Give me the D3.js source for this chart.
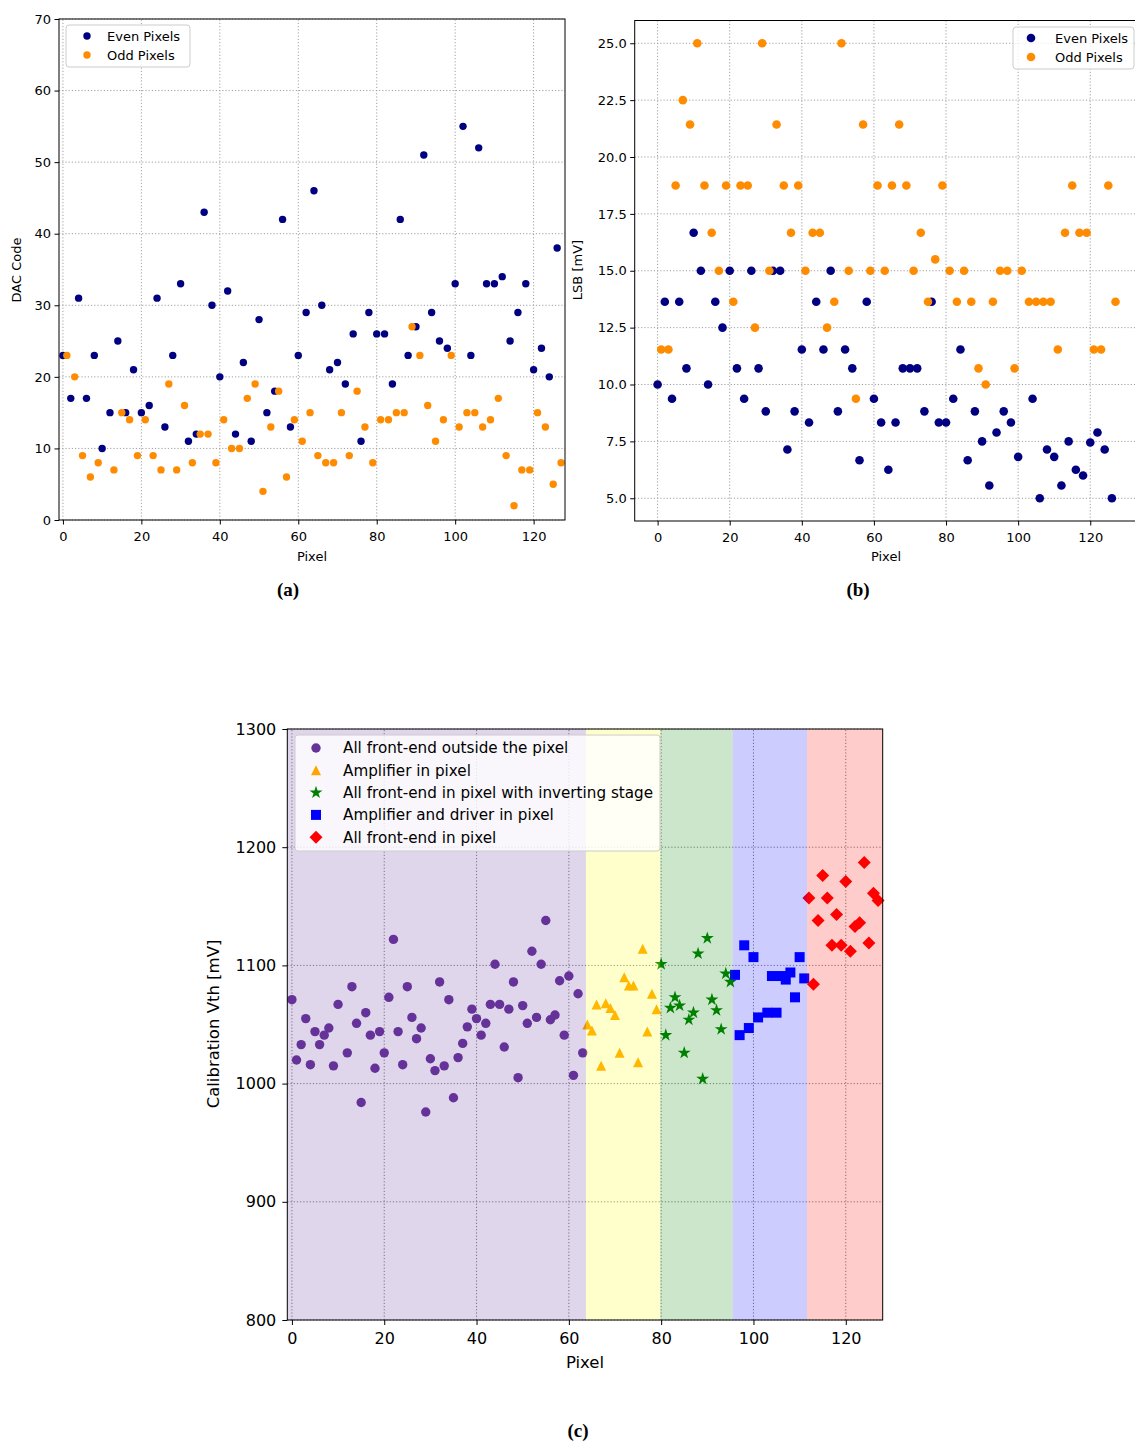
<!DOCTYPE html>
<html>
<head>
<meta charset="utf-8">
<script src="https://cdn.jsdelivr.net/npm/d3@7"></script>
<style>
  body { margin: 0; background: #fff; }
  svg { display: block; }
  text { font-family: "DejaVu Sans", sans-serif; }
</style>
</head>
<body>
<svg id="fig" width="1135" height="1443"></svg>
<script>
// ---- data: panel (a) DAC code, even pixels 0,2,..126 and odd pixels 1,3,..127
const dacEven = [23,17,31,17,23,10,15,25,15,21,15,16,31,13,23,33,11,12,43,30,20,32,12,22,11,28,15,18,42,13,23,29,
                 46,30,21,22,19,26,11,29,26,26,19,42,23,27,51,29,25,24,33,55,23,52,33,33,34,25,29,33,21,24,20,38];
const dacOdd  = [23,20,9,6,8,null,7,15,14,9,14,9,7,19,7,16,8,12,12,8,14,10,10,17,19,4,13,18,6,14,11,15,
                 9,8,8,15,9,18,13,8,14,14,15,15,27,23,16,11,14,23,13,15,15,13,14,17,9,2,7,7,15,13,5,8];

// ---- data: panel (b) LSB [mV]
const lsbEven = [10,13.64,9.375,13.64,10.71,16.67,15,10,13.64,12.5,15,10.71,9.375,15,10.71,8.82,15,15,7.14,8.82,
                 11.54,8.33,13.64,11.54,15,8.82,11.54,10.71,6.67,13.64,9.375,8.33,6.25,8.33,10.71,10.71,10.71,8.82,
                 13.64,8.33,8.33,9.375,11.54,6.67,8.82,7.5,5.56,7.89,8.82,8.33,6.82,null,9.375,5.0,7.14,6.82,5.56,
                 7.5,6.25,6.0,7.45,7.89,7.14,5.0];
const lsbOdd  = [11.54,11.54,18.75,22.5,21.43,25,18.75,16.67,15,18.75,13.64,18.75,18.75,12.5,25,15,21.43,18.75,
                 16.67,18.75,15,16.67,16.67,12.5,13.64,25,15,9.375,21.43,15,18.75,15,18.75,21.43,18.75,15,16.67,
                 13.64,15.5,18.75,15,13.64,15,13.64,10.71,10,13.64,15,15,10.71,15,13.64,13.64,13.64,13.64,11.54,
                 16.67,18.75,16.67,16.67,11.54,11.54,18.75,13.64];

// ---- data: panel (c) calibration Vth [mV], five front-end variants
const groupNames = ["All front-end outside the pixel", "Amplifier in pixel",
                    "All front-end in pixel with inverting stage", "Amplifier and driver in pixel",
                    "All front-end in pixel"];
const groupStart = [0, 64, 80, 96, 112];
const bandEdges = [-1, 63.7, 79.8, 95.5, 111.6, 128];
const vthOutside = [1071,1020,1033,1055,1016,1044,1033,1041,1047,1015,1067,null,1026,1082,1051,984,
                    1060,1041,1013,1044,1026,1073,1122,1044,1016,1082,1056,1038,1047,976,1021,1011,
                    1086,1015,1071,988,1022,1034,1048,1063,1055,1041,1051,1067,1101,1067,1031,1063,
                    1086,1005,1066,1051,1112,1056,1101,1138,1054,1058,1087,1041,1091,1007,1076,1026];
const vthAmp      = [1050,1045,1067,1015,1068,1064,1058,1026,1090,1083,1083,1018,1114,1044,1076,1063];
const vthInvert   = [1101,1041,1064,1073,1066,1026,1054,1060,1110,1004,1123,1071,1062,1046,1093,1086];
const vthAmpDrv   = [1092,1041,1117,1047,1107,1056,null,1060,1091,1060,1091,1088,1094,1073,1107,1089];
const vthAll      = [1157,1084,1138,1176,1157,1117,1143,1117,1171,1112,1133,1136,1187,1119,1161,1155];

const svg = d3.select("#fig");
svg.append("rect").attr("width", 1135).attr("height", 1443).attr("fill", "#fff");

// even / odd series -> points with pixel number
const evenPts = arr => arr.map((v, i) => ({ px: 2 * i, v })).filter(d => d.v != null);
const oddPts  = arr => arr.map((v, i) => ({ px: 2 * i + 1, v })).filter(d => d.v != null);

function addGrid(g, x, y, xTicks, yTicks, color) {
  const [y0, y1] = y.range(), [x0, x1] = x.range();
  const grid = g.append("g").attr("stroke", color).attr("stroke-width", 1)
    .attr("stroke-dasharray", "1.2,2");
  grid.selectAll(".gx").data(xTicks).join("line")
    .attr("x1", d => x(d)).attr("x2", d => x(d)).attr("y1", y0).attr("y2", y1);
  grid.selectAll(".gy").data(yTicks).join("line")
    .attr("y1", d => y(d)).attr("y2", d => y(d)).attr("x1", x0).attr("x2", x1);
}

function addAxes(g, x, y, o) {
  const [y0, y1] = y.range(), [x0, x1] = x.range();
  g.append("g").attr("transform", `translate(0,${y0})`)
    .call(d3.axisBottom(x).tickValues(o.xTicks).tickSize(o.tick).tickPadding(o.padX))
    .call(a => a.select(".domain").remove())
    .attr("font-family", "DejaVu Sans").attr("font-size", o.fs);
  g.append("g").attr("transform", `translate(${x0},0)`)
    .call(d3.axisLeft(y).tickValues(o.yTicks).tickSize(o.tick).tickPadding(o.padY)
      .tickFormat(o.yFmt || (d => d)))
    .call(a => a.select(".domain").remove())
    .attr("font-family", "DejaVu Sans").attr("font-size", o.fs);
  g.append("rect").attr("x", x0).attr("y", y1).attr("width", x1 - x0).attr("height", y0 - y1)
    .attr("fill", "none").attr("stroke", "#000").attr("stroke-width", 1);
}

function legendBox(g, x, y, w, h) {
  g.append("rect").attr("x", x).attr("y", y).attr("width", w).attr("height", h)
    .attr("rx", 3).attr("fill", "#fff").attr("fill-opacity", 0.8)
    .attr("stroke", "#cccccc").attr("stroke-width", 1);
}

function label(x, y, txt, size, rot) {
  const t = svg.append("text").attr("x", x).attr("y", y).attr("text-anchor", "middle")
    .attr("font-size", size).attr("fill", "#000").text(txt);
  if (rot) t.attr("transform", `rotate(-90,${x},${y})`);
  return t;
}

function caption(x, y, txt) {
  svg.append("text").attr("x", x).attr("y", y).attr("text-anchor", "middle")
    .style("font-family", "'Liberation Serif', 'DejaVu Serif', serif")
    .attr("font-weight", "bold").attr("font-size", 19).text(txt);
}

const evenColor = "#000080", oddColor = "#ff8c00";

// ================= panel (a)
{
  const x = d3.scaleLinear([-1, 128], [59, 565]);
  const y = d3.scaleLinear([0, 70], [520, 19]);
  const g = svg.append("g");
  const xTicks = d3.range(0, 121, 20), yTicks = d3.range(0, 71, 10);
  addGrid(g, x, y, xTicks, yTicks, "#a0a0a0");
  g.append("g").selectAll("circle").data(evenPts(dacEven)).join("circle")
    .attr("cx", d => x(d.px)).attr("cy", d => y(d.v)).attr("r", 3.7).attr("fill", evenColor);
  g.append("g").selectAll("circle").data(oddPts(dacOdd)).join("circle")
    .attr("cx", d => x(d.px)).attr("cy", d => y(d.v)).attr("r", 3.7).attr("fill", oddColor);
  addAxes(g, x, y, { xTicks, yTicks, tick: 4.5, padX: 7, padY: 3.5, fs: 13 });
  legendBox(g, 66, 25, 124, 42);
  [["Even Pixels", evenColor], ["Odd Pixels", oddColor]].forEach(([t, c], i) => {
    g.append("circle").attr("cx", 87).attr("cy", 36 + i * 19).attr("r", 3.7).attr("fill", c);
    g.append("text").attr("x", 107).attr("y", 36 + i * 19).attr("dy", "0.35em")
      .attr("font-size", 13).text(t);
  });
  label(16, 270, "DAC Code", 13, true).attr("dy", "0.35em");
  label(312, 561, "Pixel", 13);
  caption(288, 596, "(a)");
}

// ================= panel (b)
{
  const x = d3.scaleLinear([-6.35, 133.35], [634.7, 1138.4]);
  const y = d3.scaleLinear([4, 26], [521, 20.5]);
  const g = svg.append("g");
  const xTicks = d3.range(0, 121, 20), yTicks = d3.range(5, 25.1, 2.5);
  addGrid(g, x, y, xTicks, yTicks, "#a0a0a0");
  g.append("g").selectAll("circle").data(evenPts(lsbEven)).join("circle")
    .attr("cx", d => x(d.px)).attr("cy", d => y(d.v)).attr("r", 4.3).attr("fill", evenColor);
  g.append("g").selectAll("circle").data(oddPts(lsbOdd)).join("circle")
    .attr("cx", d => x(d.px)).attr("cy", d => y(d.v)).attr("r", 4.3).attr("fill", oddColor);
  addAxes(g, x, y, { xTicks, yTicks, tick: 4.5, padX: 7, padY: 3.5, fs: 13, yFmt: d3.format(".1f") });
  legendBox(g, 1013, 27, 121, 42);
  [["Even Pixels", evenColor], ["Odd Pixels", oddColor]].forEach(([t, c], i) => {
    g.append("circle").attr("cx", 1031).attr("cy", 38 + i * 19).attr("r", 4.3).attr("fill", c);
    g.append("text").attr("x", 1055).attr("y", 38 + i * 19).attr("dy", "0.35em")
      .attr("font-size", 13).text(t);
  });
  label(577, 270, "LSB [mV]", 13, true).attr("dy", "0.35em");
  label(886, 561, "Pixel", 13);
  caption(858, 596, "(b)");
}

// ================= panel (c)
{
  const x = d3.scaleLinear([-1, 128], [287.3, 882.7]);
  const y = d3.scaleLinear([800, 1300], [1320, 729]);
  const g = svg.append("g");
  const xTicks = d3.range(0, 121, 20), yTicks = d3.range(800, 1301, 100);
  const colors = ["#663399", "#ffa500", "#008000", "#0000ff", "#ff0000"];
  const bandColors = ["#663399", "#ffff00", "#008000", "#0000ff", "#ff0000"];
  const tri = s => `M0,${-s}L${s},${s}L${-s},${s}Z`;
  const dia = s => `M0,${-s}L${s},0L0,${s}L${-s},0Z`;
  const shapes = [
    d3.symbol(d3.symbolCircle, Math.PI * 4.7 * 4.7)(),
    tri(5),
    d3.symbol(d3.symbolStar, 52)(),
    d3.symbol(d3.symbolSquare, 100)(),
    dia(6.5)
  ];
  const series = [vthOutside, vthAmp, vthInvert, vthAmpDrv, vthAll];

  addGrid(g, x, y, xTicks, yTicks, "#808080");
  series.forEach((arr, k) => {
    const pts = arr.map((v, i) => ({ px: groupStart[k] + i, v })).filter(d => d.v != null);
    g.append("g").selectAll("path").data(pts).join("path")
      .attr("d", shapes[k]).attr("fill", colors[k])
      .attr("transform", d => `translate(${x(d.px)},${y(d.v)})`);
  });
  // translucent bands over the markers
  g.append("g").selectAll("rect").data(bandColors).join("rect")
    .attr("x", (c, i) => x(bandEdges[i])).attr("width", (c, i) => x(bandEdges[i + 1]) - x(bandEdges[i]))
    .attr("y", 729).attr("height", 1320 - 729).attr("fill", c => c).attr("fill-opacity", 0.2);
  addAxes(g, x, y, { xTicks, yTicks, tick: 5, padX: 8, padY: 6, fs: 16 });

  legendBox(g, 295, 735, 365, 116);
  groupNames.forEach((t, i) => {
    const cy = 748 + i * 22.3;
    g.append("path").attr("d", shapes[i]).attr("fill", colors[i])
      .attr("transform", `translate(316,${cy})`);
    g.append("text").attr("x", 343).attr("y", cy).attr("dy", "0.35em")
      .attr("font-size", 15.2).text(t);
  });
  label(213, 1024, "Calibration Vth [mV]", 16.5, true).attr("dy", "0.35em");
  label(585, 1368, "Pixel", 16.5);
  caption(578, 1437, "(c)");
}
</script>
</body>
</html>
